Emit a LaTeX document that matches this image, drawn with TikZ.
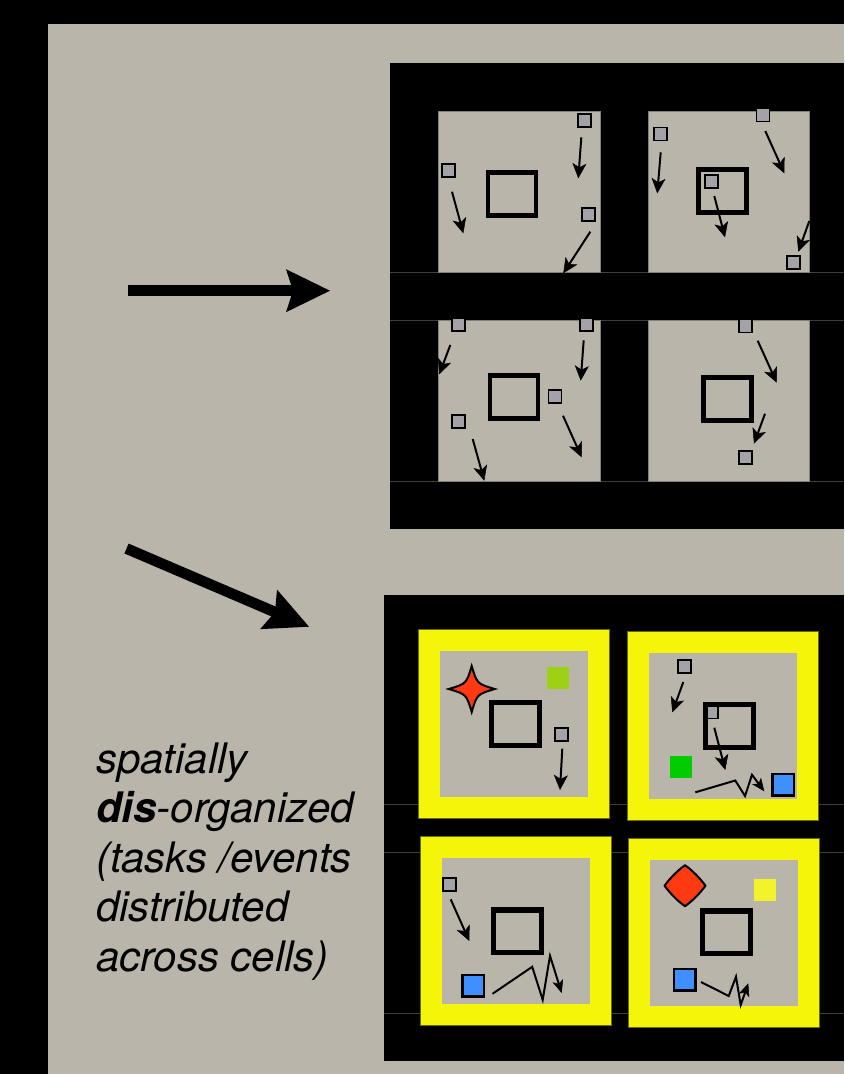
\documentclass[tikz,border=0pt]{standalone}
\usepackage{fontspec}
\setmainfont{TeX Gyre Heros}
\usetikzlibrary{arrows.meta}

\definecolor{panel}{RGB}{185,181,170}
\definecolor{tokengray}{RGB}{163,163,167}
\definecolor{hotred}{RGB}{255,58,18}
\definecolor{frameyellow}{RGB}{245,245,10}
\definecolor{frameedge}{RGB}{110,110,0}
\definecolor{limegreen}{RGB}{157,210,20}
\definecolor{puregreen}{RGB}{0,204,0}
\definecolor{skyblue}{RGB}{63,143,255}
\definecolor{paleyellow}{RGB}{242,242,45}
\definecolor{seam}{RGB}{62,62,62}

\tikzset{
  cellbg/.style={fill=panel, draw=panel!70!black, line width=0.5pt},
  yframe/.style={fill=frameyellow, draw=frameedge, line width=0.6pt},
  bigsq/.style={draw=black, line width=4.8pt, minimum width=48pt, minimum height=42.8pt, inner sep=0pt},
  tok/.style={draw=black, fill=tokengray, line width=1.7pt, minimum size=13pt, inner sep=0pt},
  chip/.style={draw=black, fill=skyblue, line width=2.5pt, minimum size=21.5pt, inner sep=0pt},
  move/.style={line width=2pt, -{Stealth[length=15pt,width=14pt,inset=4pt,line width=0.5pt]}},
  jag/.style={line width=2pt, line join=miter, -{Stealth[length=13pt,width=11pt,inset=3.5pt,line width=0.5pt]}},
  bigarrow/.style={line width=10.7pt, -{Stealth[length=44pt,width=43pt,inset=7pt,line width=0pt]}},
  seamline/.style={draw=seam, line width=0.7pt},
  caption/.style={anchor=base west, inner sep=0pt, font=\fontsize{42}{49.5}\selectfont\itshape},
}

% short arrow between two named free coordinates
\newcommand\mvarrow[3]{\coordinate (#1s) at (#2); \coordinate (#1e) at (#3); \draw[move] (#1s) -- (#1e);}

\begin{document}
\begin{tikzpicture}[x=1pt,y=-1pt]
  \useasboundingbox (0,0) rectangle (844,1074);
  \fill[black] (0,0) rectangle (844,1074);
  \fill[panel] (48,24) rectangle (844,1074);

  % ---------- upper grid: organized cells ----------
  \fill[black] (390,63) rectangle (844,529);
  \draw[seamline] (390,272) -- (844,272);
  \draw[seamline] (390,320.3) -- (844,320.3);
  \draw[seamline] (390,481.3) -- (844,481.3);
  \filldraw[cellbg] (438.7,111) rectangle (600,272);
  \filldraw[cellbg] (648,111) rectangle (809.3,272);
  \filldraw[cellbg] (438.7,320.3) rectangle (600,481.3);
  \filldraw[cellbg] (648,320.3) rectangle (809.3,481.3);

  % cell 1
  \node[bigsq] (sq1) at (512,194) {};
  \node[tok] (t1a) at (584.3,120.3) {};
  \node[tok] (t1b) at (448.3,170.7) {};
  \node[tok] (t1c) at (588.3,214.5) {};
  \mvarrow{m1a}{581.3,137.3}{578.3,178.3}
  \mvarrow{m1b}{452,191.7}{463.3,233.3}
  \mvarrow{m1c}{590.3,231.7}{563.3,273.3}

  % cell 2
  \node[bigsq] (sq2) at (722.3,191.2) {};
  \node[tok] (t2a) at (763,115) {};
  \node[tok] (t2b) at (660.5,134) {};
  \node[tok] (t2c) at (711.8,181.2) {};
  \node[tok] (t2d) at (793.5,262.8) {};
  \mvarrow{m2a}{660.7,152.3}{657.3,193.3}
  \mvarrow{m2b}{765.3,131}{784.3,173.3}
  \mvarrow{m2c}{714.3,196}{725,237.3}
  \mvarrow{m2d}{809.3,221}{798.3,251.7}

  % cell 3
  \node[bigsq] (sq3) at (514,397.2) {};
  \node[tok] (t3a) at (458.7,324.3) {};
  \node[tok] (t3b) at (586.3,324.3) {};
  \node[tok] (t3c) at (555,396.7) {};
  \node[tok] (t3d) at (458.7,421.8) {};
  \mvarrow{m3a}{450.3,345}{439.3,374.3}
  \mvarrow{m3b}{583.7,340.3}{580.7,380.7}
  \mvarrow{m3c}{563,415.7}{581.7,457.3}
  \mvarrow{m3d}{472.7,439}{484.3,480.7}

  % cell 4
  \node[bigsq] (sq4) at (727.3,399.2) {};
  \node[tok] (t4a) at (745.2,326) {};
  \node[tok] (t4b) at (745.2,457.5) {};
  \mvarrow{m4a}{757.7,340.7}{776.7,382.7}
  \mvarrow{m4b}{765,413.7}{754,443.7}

  % ---------- lower grid: dis-organized cells ----------
  \fill[black] (384,595) rectangle (844,1061);
  \draw[seamline] (384,804.3) -- (844,804.3);
  \draw[seamline] (384,852.3) -- (844,852.3);
  \draw[seamline] (384,1013.3) -- (844,1013.3);

  \filldraw[yframe] (418.3,629.3) rectangle (609,818.3);
  \fill[panel] (439.7,650.7) rectangle (587.7,796.7);
  \filldraw[yframe] (627.3,631.3) rectangle (818.3,820);
  \fill[panel] (649,652.7) rectangle (797,799);
  \filldraw[yframe] (420.3,836.3) rectangle (611,1025.3);
  \fill[panel] (441.7,857.7) rectangle (590,1003.7);
  \filldraw[yframe] (628.7,838.7) rectangle (819.3,1027.3);
  \fill[panel] (650,860) rectangle (798,1005.7);

  % cell 1: star event
  \filldraw[fill=hotred, draw=black, line width=2pt, line join=miter, miter limit=20]
    (471.7,666) .. controls (477,683.7) .. (494.7,689)
    .. controls (477,694.3) .. (471.7,712)
    .. controls (466.4,694.3) .. (448.7,689)
    .. controls (466.4,683.7) .. cycle;
  \fill[limegreen] (547,667) rectangle (569,689);
  \node[bigsq, line width=5.2pt] (sq5) at (515.8,724.2) {};
  \node[tok] (t5a) at (561.8,734.8) {};
  \mvarrow{m5a}{562.3,748.7}{560,790}

  % cell 2
  \node[tok] (t6a) at (684.2,666.8) {};
  \node[tok] (t6b) at (711.3,712) {};
  \node[bigsq, line width=5.2pt] (sq6) at (729.2,726.2) {};
  \mvarrow{m6a}{683.3,682}{672.3,712.3}
  \mvarrow{m6b}{714.3,727.7}{725.3,770}
  \fill[puregreen] (669.7,755.7) rectangle (692,777.7);
  \node[chip] (c6) at (783.1,784.7) {};
  \coordinate (z6s) at (695.3,792.3);
  \coordinate (z6e) at (764.3,791.3);
  \draw[jag] (z6s) -- (735.3,780.5) -- (745,796) -- (752,774.8) -- (z6e);

  % cell 3
  \node[bigsq, line width=5.2pt] (sq7) at (517.8,931.3) {};
  \node[tok] (t7a) at (449.2,884.7) {};
  \mvarrow{m7a}{450.7,899.3}{469.3,941}
  \node[chip] (c7) at (473.3,985.7) {};
  \coordinate (z7s) at (492.5,993.8);
  \coordinate (z7e) at (561.7,993);
  \draw[jag] (z7s) -- (532.2,966.8) -- (542.7,999.8) -- (550,955.8) -- (z7e);

  % cell 4: diamond event
  \filldraw[fill=hotred, draw=black, line width=2pt, line join=round]
    (685,865.2) .. controls (693,871) and (699.5,877.7) .. (705.5,885.7)
    .. controls (699.5,893.7) and (693,900.5) .. (685,906.2)
    .. controls (677,900.5) and (670.5,893.7) .. (664.5,885.7)
    .. controls (670.5,877.7) and (677,871) .. cycle;
  \fill[paleyellow] (754,879) rectangle (776,901);
  \node[bigsq, line width=5.2pt] (sq8) at (726.2,932.3) {};
  \node[chip] (c8) at (684.8,979.5) {};
  \coordinate (z8s) at (701,982);
  \coordinate (z8e) at (748.3,983.3);
  \draw[jag] (z8s) -- (728.7,996) -- (736,976.7) -- (740.7,1005) -- (z8e);

  % ---------- big arrows on the left ----------
  \coordinate (a1s) at (128,290.7);
  \coordinate (a1e) at (330,290.7);
  \draw[bigarrow] (a1s) -- (a1e);
  \coordinate (a2s) at (126.5,548.5);
  \coordinate (a2e) at (309,626.7);
  \draw[bigarrow] (a2s) -- (a2e);

  % ---------- caption ----------
  \node[caption] (l1) at (96,773) {spatially};
  \node[caption] (l2) at (96,822.5) {\textbf{dis}-organized};
  \node[caption] (l3) at (96,872) {(tasks /events};
  \node[caption] (l4) at (96,921.5) {distributed};
  \node[caption] (l5) at (96,971) {across cells)};
\end{tikzpicture}
\end{document}
